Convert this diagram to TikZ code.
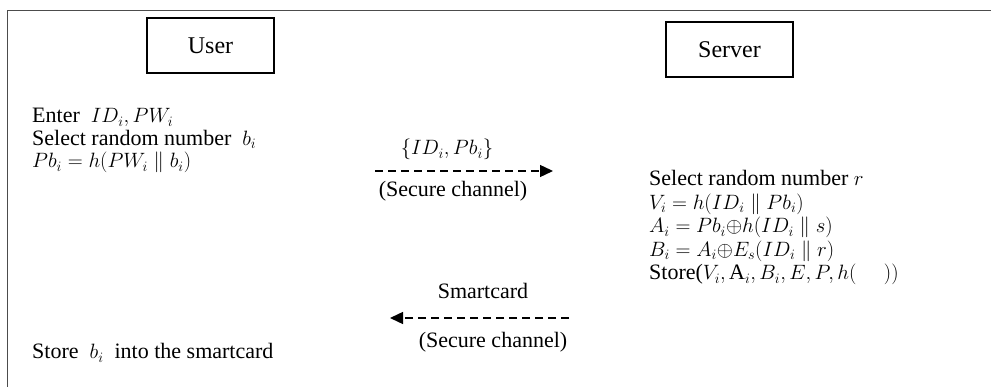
\documentclass[tikz,border=0pt]{standalone}
\usepackage{fontspec}
\setmainfont{Liberation Serif}
\usetikzlibrary{arrows.meta}
\begin{document}
\begin{tikzpicture}[x=1pt,y=-1pt,
  txt/.style={anchor=base west, inner sep=0pt, text height=14pt, text depth=4pt, font=\fontsize{22}{26}\selectfont},
  lbl/.style={anchor=base, inner sep=0pt, text height=14pt, text depth=4pt, font=\fontsize{22}{26}\selectfont},
  actor/.style={draw, line width=1.2pt, minimum width=127pt, minimum height=55pt, inner sep=0pt, font=\fontsize{24}{28}\selectfont},
  msg/.style={line width=1.4pt, dash pattern=on 8pt off 5pt, -{Triangle[length=13pt,width=12pt]}},
  frameline/.style={line width=1.6pt, draw=black!70}]
\useasboundingbox (0,0) rectangle (991,387);
% frame
\coordinate (ftl) at (7.5,10.5);
\coordinate (ftr) at (991,10.5);
\coordinate (fbl) at (7.5,387);
\draw[frameline] (fbl) -- (ftl) -- (ftr);
% actors
\node[actor] (user) at (210.5,45.5) {User};
\node[actor] (server) at (729.5,49.5) {Server};
% user side
\node[txt] (u1) at (32,123) {Enter\ \ $ID_i, PW_i$};
\node[txt] (u2) at (32,145.5) {Select random number\ \ $b_i$};
\node[txt] (u3) at (32,168) {$Pb_i = h(PW_i \parallel b_i)$};
\node[txt] (u4) at (32,359) {Store\ \ $b_i$\ \ into the smartcard};
% server side
\node[txt] (s1) at (649,186) {Select random number $r$};
\node[txt] (s2) at (649,209.5) {$V_i = h(ID_i \parallel Pb_i)$};
\node[txt] (s3) at (649,233) {$A_i = Pb_i{\oplus}h(ID_i \parallel s)$};
\node[txt] (s4) at (649,256.5) {$B_i = A_i{\oplus}E_s(ID_i \parallel r)$};
\node[txt] (s5) at (649,280) {Store($V_i, \mathrm{A}_i, B_i, E, P, h(\quad\ ))$};
% message 1
\node[lbl] (m1a) at (447,155) {$\{ID_i, Pb_i\}$};
\node[lbl] (m1b) at (453,197) {(Secure channel)};
\coordinate (a1s) at (375,171);
\coordinate (a1e) at (553,171);
\draw[msg] (a1s) -- (a1e);
% message 2
\node[lbl] (m2a) at (483,299) {Smartcard};
\node[lbl] (m2b) at (493,348) {(Secure channel)};
\coordinate (a2s) at (569,318);
\coordinate (a2e) at (390,318);
\draw[msg] (a2s) -- (a2e);
\end{tikzpicture}
\end{document}
